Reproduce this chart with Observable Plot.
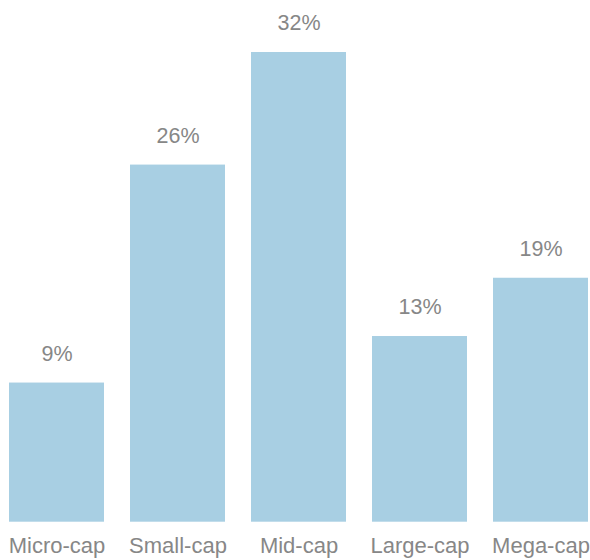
<!DOCTYPE html>
<html>
<head>
<meta charset="utf-8">
<script src="https://cdn.jsdelivr.net/npm/d3@7"></script>
<script src="https://cdn.jsdelivr.net/npm/@observablehq/plot@0.6"></script>
<style>
  html, body { margin: 0; padding: 0; background: #fff; }
  #chart svg { display: block; }
</style>
</head>
<body>
<div id="chart"></div>
<script>
const categories = ["Micro-cap", "Small-cap", "Mid-cap", "Large-cap", "Mega-cap"];
const values = [9.48, 24.33, 32, 12.65, 16.62];
const valueLabels = ["9%", "26%", "32%", "13%", "19%"];

const data = categories.map((c, i) => ({cat: c, value: values[i], label: valueLabels[i]}));

const chart = Plot.plot({
  width: 590,
  height: 560,
  marginLeft: 9,
  marginRight: 2,
  marginTop: 52,
  marginBottom: 38.3,
  style: {fontFamily: "'Liberation Sans', Arial, Helvetica, sans-serif", background: "#fff"},
  x: {domain: categories, paddingInner: 0.215, paddingOuter: 0, label: null},
  y: {domain: [0, 32], axis: null},
  marks: [
    Plot.barY(data, {x: "cat", y: "value", fill: "#a8cfe3"}),
    Plot.text(data, {x: "cat", y: "value", text: "label", dy: -29, fontSize: 21.5, fill: "#878787"}),
    Plot.axisX({tickSize: 0, tickPadding: 15, fontSize: 22, color: "#878787", label: null})
  ]
});
document.getElementById("chart").appendChild(chart);
</script>
</body>
</html>
